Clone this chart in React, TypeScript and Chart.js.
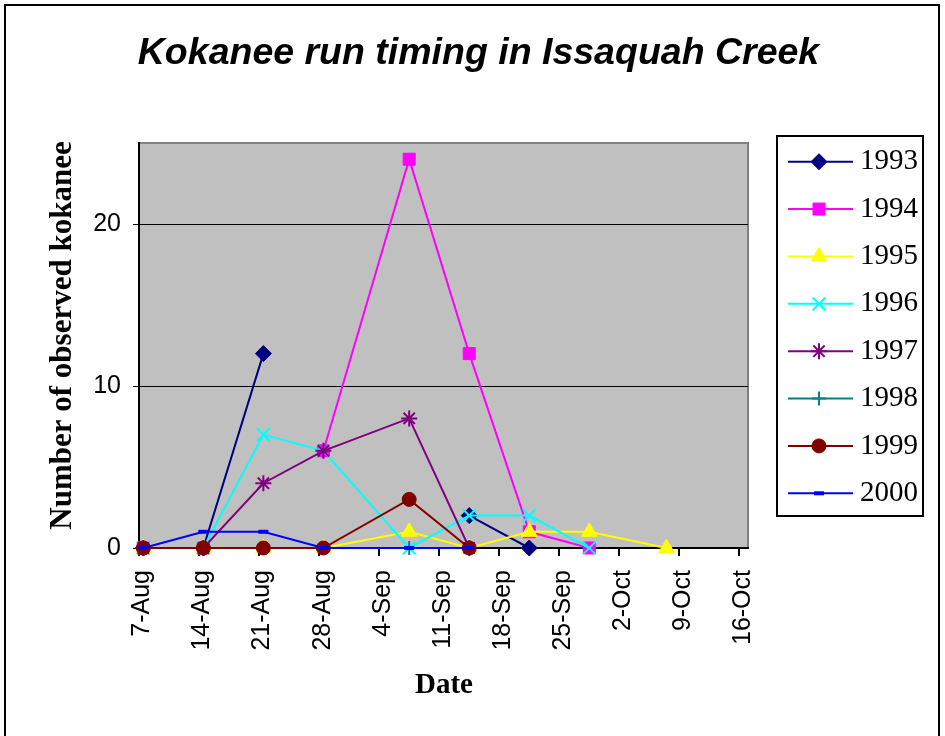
import React, { useEffect, useRef } from 'react';
import { Chart, registerables } from 'chart.js';
import { drawPoint } from 'chart.js/helpers';

Chart.register(...registerables);

// ---- data ----
const pointDates = ['7-Aug', '14-Aug', '21-Aug', '28-Aug', '7-Sep', '14-Sep', '21-Sep', '28-Sep', '7-Oct'];
const xTickLabels = ['7-Aug', '14-Aug', '21-Aug', '28-Aug', '4-Sep', '11-Sep', '18-Sep', '25-Sep', '2-Oct', '9-Oct', '16-Oct'];
const yTickValues = [0, 10, 20];
const seriesNames = ['1993', '1994', '1995', '1996', '1997', '1998', '1999', '2000'];

const s1993 = [0, 0, 12, null, null, 2, 0, null, null];
const s1994 = [0, 0, null, 6, 24, 12, 1, 0, null];
const s1995 = [0, 0, 0, 0, 1, 0, 1, 1, 0];
const s1996 = [0, 0, 7, 6, 0, 2, 2, 0, null];
const s1997 = [0, 0, 4, 6, 8, 0, null, null, null];
const s1998 = [0, 0, 0, 0, 0, 0, null, null, null];
const s1999 = [0, 0, 0, 0, 3, 0, null, null, null];
const s2000 = [0, 1, 1, 0, 0, 0, null, null, null];

const seriesValues = [s1993, s1994, s1995, s1996, s1997, s1998, s1999, s2000];

const seriesColors = ['#000080', '#FF00FF', '#FFFF00', '#00FFFF', '#800080', '#008080', '#800000', '#0000FF'];
const seriesStyles = ['rectRot', 'rect', 'triangle', 'crossRot', 'star', 'cross', 'circle', 'line'];
const seriesRadii = [8, 8.5, 9, 9, 8, 7, 7, 5];
const seriesPointBorder = [1, 1, 1, 2, 2, 2, 1, 4];

// days since 7-Aug
const monthOffset: Record<string, number> = { Aug: -7, Sep: 24, Oct: 54 };
function toDay(label: string): number {
  const [d, m] = label.split('-');
  return parseInt(d, 10) + monthOffset[m];
}

const SERIF = '"Liberation Serif", "Times New Roman", serif';
const SANS = '"Liberation Sans", Arial, sans-serif';

const decorPlugin = {
  id: 'decor',
  beforeDraw(chart: any) {
    const { ctx, chartArea } = chart;
    const { left, top, right, bottom } = chartArea;
    ctx.save();
    ctx.fillStyle = '#C0C0C0';
    ctx.fillRect(left, top, right - left, bottom - top);
    ctx.strokeStyle = '#808080';
    ctx.lineWidth = 2;
    ctx.beginPath();
    ctx.moveTo(left, top);
    ctx.lineTo(right, top);
    ctx.lineTo(right, bottom);
    ctx.stroke();
    ctx.restore();
  },
  afterDraw(chart: any) {
    const { ctx } = chart;
    ctx.save();
    // outer frame
    ctx.strokeStyle = '#000';
    ctx.lineWidth = 2;
    ctx.strokeRect(5, 5, 934, 745);

    // title
    ctx.fillStyle = '#000';
    ctx.font = `italic bold 37.5px ${SANS}`;
    ctx.textAlign = 'center';
    ctx.textBaseline = 'alphabetic';
    ctx.fillText('Kokanee run timing in Issaquah Creek', 478.5, 64);

    // y axis title
    ctx.save();
    ctx.translate(71, 335.5);
    ctx.rotate(-Math.PI / 2);
    ctx.font = `bold 31px ${SERIF}`;
    ctx.textAlign = 'center';
    ctx.textBaseline = 'alphabetic';
    ctx.fillText('Number of observed kokanee', 0, 0);
    ctx.restore();

    // x axis title
    ctx.font = `bold 29px ${SERIF}`;
    ctx.textAlign = 'center';
    ctx.textBaseline = 'alphabetic';
    ctx.fillText('Date', 444, 693);

    // legend
    ctx.lineWidth = 2;
    ctx.strokeStyle = '#000';
    ctx.strokeRect(777, 136, 146, 380);
    chart.data.datasets.forEach((ds: any, i: number) => {
      const y = 161.7 + i * 47.37;
      ctx.strokeStyle = ds.borderColor;
      ctx.lineWidth = 2;
      ctx.beginPath();
      ctx.moveTo(788, y);
      ctx.lineTo(853, y);
      ctx.stroke();
      ctx.fillStyle = ds.pointBackgroundColor;
      ctx.strokeStyle = ds.pointBorderColor;
      ctx.lineWidth = ds.pointBorderWidth;
      drawPoint(ctx, { pointStyle: ds.pointStyle, radius: ds.pointRadius, rotation: 0, borderWidth: ds.pointBorderWidth } as any, 819, y);
      ctx.fillStyle = '#000';
      ctx.font = `29px ${SERIF}`;
      ctx.textAlign = 'left';
      ctx.textBaseline = 'middle';
      ctx.fillText(ds.label, 860, y);
    });
    ctx.restore();
  },
};

export default function App() {
  const ref = useRef<HTMLCanvasElement>(null);
  useEffect(() => {
    document.body.style.margin = '0';
    const xs = pointDates.map(toDay);
    const datasets = seriesNames.map((name, i) => ({
      label: name,
      data: seriesValues[i].map((v, j) => ({ x: xs[j], y: v })),
      borderColor: seriesColors[i],
      backgroundColor: seriesColors[i],
      borderWidth: 2,
      pointStyle: seriesStyles[i],
      pointRadius: seriesRadii[i],
      pointHoverRadius: seriesRadii[i],
      pointBackgroundColor: seriesColors[i],
      pointBorderColor: seriesColors[i],
      pointBorderWidth: seriesPointBorder[i],
      spanGaps: false,
      tension: 0,
      clip: false,
      order: seriesNames.length - i,
    }));
    const chart = new Chart(ref.current as HTMLCanvasElement, {
      type: 'line',
      data: { datasets } as any,
      plugins: [decorPlugin],
      options: {
        responsive: false,
        animation: false,
        devicePixelRatio: 1,
        layout: { padding: { top: 143, right: 197, left: 0, bottom: 0 } },
        plugins: {
          legend: { display: false },
          title: { display: false },
          tooltip: { enabled: false },
        },
        scales: {
          x: {
            type: 'linear',
            min: -0.5,
            max: 70.5,
            afterFit: (scale: any) => { scale.height = 188; },
            afterBuildTicks: (scale: any) => {
              scale.ticks = xTickLabels.map((l) => ({ value: toDay(l) - 0.5 }));
            },
            ticks: {
              autoSkip: false,
              minRotation: 90,
              maxRotation: 90,
              padding: 14,
              labelOffset: 3.5,
              color: '#000',
              font: { family: SANS, size: 25 },
              callback: (_v: any, idx: number) => xTickLabels[idx],
            },
            grid: { drawOnChartArea: false, drawTicks: true, tickLength: 8, color: '#000', lineWidth: 2 },
            border: { display: true, color: '#000', width: 2 },
          },
          y: {
            type: 'linear',
            min: 0,
            max: 25,
            afterFit: (scale: any) => { scale.width = 139; },
            afterBuildTicks: (scale: any) => {
              scale.ticks = yTickValues.map((v) => ({ value: v }));
            },
            ticks: {
              padding: 12,
              color: '#000',
              font: { family: SANS, size: 25 },
              callback: (v: any) => String(v),
            },
            grid: { color: '#000', lineWidth: 1, tickLength: 6, drawTicks: true },
            border: { display: true, color: '#000', width: 2 },
          },
        },
      } as any,
    });
    return () => chart.destroy();
  }, []);
  return (
    <div style={{ width: 945, height: 736 }}>
      <canvas ref={ref} width={945} height={736} style={{ display: 'block' }} />
    </div>
  );
}
